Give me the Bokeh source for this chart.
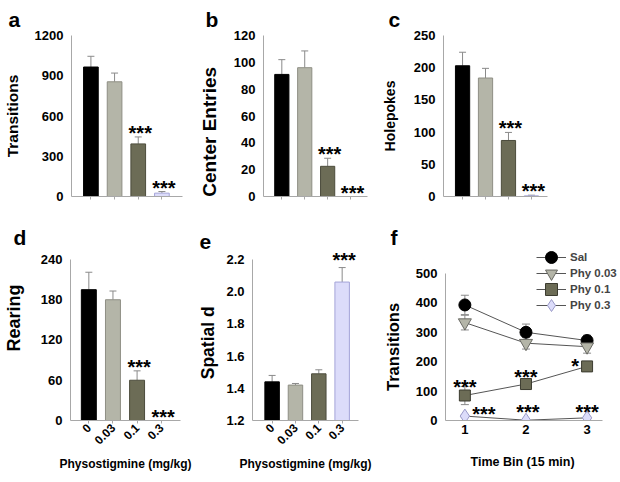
import math
from bokeh.plotting import figure
from bokeh.layouts import column, row
from bokeh.models import (ColumnDataSource, Whisker, TeeHead, FixedTicker,
                          Legend, LegendItem, Range1d, NumeralTickFormatter)
from bokeh.core.properties import value
from bokeh.embed import file_html
from bokeh.resources import INLINE

FONT = "Liberation Sans"
NB = "\u00a0"

# ---------------- data ----------------
doses = ["0", "0.03", "0.1", "0.3"]
bar_fill = ["#000000", "#b4b5a8", "#6c6c56", "#dcdcfa"]
bar_line = ["#000000", "#8e8e84", "#4c4c3c", "#a4a4d8"]

transitions = [965, 855, 392, 25]
transitions_err = [80, 65, 52, 12]
transitions_sig = ["", "", "***", "***"]

center_entries = [91, 96, 22.5, 0]
center_entries_err = [11, 12.5, 6, 0]
center_entries_sig = ["", "", "***", "***"]

holepokes = [203, 184, 87, 1]
holepokes_err = [21, 15, 12.5, 1]
holepokes_sig = ["", "", "***", "***"]

rearing = [195, 180, 60, 0]
rearing_err = [26, 13, 14, 0]
rearing_sig = ["", "", "***", "***"]

spatial_d = [1.44, 1.42, 1.49, 2.06]
spatial_d_err = [0.04, 0.01, 0.025, 0.09]
spatial_d_sig = ["", "", "", "***"]

time_bins = [1, 2, 3]
sal = [393, 300, 272]
sal_err = [33, 28, 18]
phy003 = [333, 263, 251]
phy003_err = [25, 20, 22]
phy01 = [85, 124, 184]
phy01_err = [31, 12, 8]
phy01_sig = ["***", "***", "*"]
phy03 = [15, 1, 9]
phy03_err = [4, 2, 3]
phy03_sig = ["***", "***", "***"]

AXIS_GRAY = "#a8a8a8"
ERR_GRAY = "#8a8a8a"


def make_fig(letter, w, h, l, r, t, b, xr, yr, letter_offset, letter_standoff):
    p = figure(width=w, height=h, x_range=xr, y_range=yr, output_backend="svg",
               toolbar_location=None, min_border_left=l, min_border_right=r,
               min_border_top=t, min_border_bottom=b, title=letter)
    p.title.align = "left"
    p.title.offset = letter_offset
    p.title.standoff = letter_standoff
    p.title.text_font = FONT
    p.title.text_font_style = "bold"
    p.title.text_font_size = "21px"
    p.title.text_color = "#000000"
    p.grid.visible = False
    p.outline_line_color = None
    for ax in (p.xaxis[0], p.yaxis[0]):
        ax.axis_line_color = AXIS_GRAY
        ax.major_tick_line_color = AXIS_GRAY
        ax.minor_tick_line_color = None
        ax.major_label_text_font = FONT
        ax.major_label_text_font_style = "bold"
        ax.major_label_text_font_size = "13px"
        ax.major_label_text_color = "#000000"
        ax.axis_label_text_font = FONT
        ax.axis_label_text_font_style = "bold"
        ax.axis_label_text_color = "#000000"
    p.yaxis.major_tick_in = 0
    p.yaxis.major_tick_out = 0
    p.yaxis.major_label_standoff = 8
    p.xaxis.major_tick_in = 0
    p.xaxis.major_tick_out = 3
    return p


def bar_panel(letter, ylabel, vals, errs, sig, yticks, ystart, yend, ybound,
              w, h, l, r, t, b, xr, label_size, label_standoff, show_x,
              letter_offset, letter_standoff, sig_offset=-4, fmt=None):
    p = make_fig(letter, w, h, l, r, t, b, Range1d(*xr), Range1d(ystart, yend),
                 letter_offset, letter_standoff)
    src = ColumnDataSource(dict(
        x=list(range(len(vals))), top=vals,
        upper=[v + e for v, e in zip(vals, errs)],
        fill=bar_fill, line=bar_line, sig=sig))
    p.vbar(x="x", top="top", bottom=ystart, width=0.62, source=src,
           fill_color="fill", line_color="line", line_width=1)
    p.add_layout(Whisker(base="x", lower="top", upper="upper", source=src,
                         line_color=ERR_GRAY, line_width=1, lower_head=None,
                         upper_head=TeeHead(size=7, line_color=ERR_GRAY, line_width=1)))
    p.text(x="x", y="upper", text="sig", source=src, text_font=value(FONT),
           text_font_style="bold", text_font_size="20px", text_align="center",
           text_baseline="alphabetic", x_offset=2, y_offset=sig_offset,
           text_color="#000000")
    p.yaxis.ticker = FixedTicker(ticks=yticks)
    p.yaxis.bounds = ybound
    if fmt:
        p.yaxis.formatter = NumeralTickFormatter(format=fmt)
    p.yaxis.axis_label = ylabel
    p.yaxis.axis_label_text_font_size = label_size
    p.yaxis.axis_label_standoff = label_standoff
    p.xaxis.ticker = FixedTicker(ticks=list(range(len(vals))))
    if show_x:
        p.xaxis.major_label_overrides = {i: d for i, d in enumerate(doses)}
        p.xaxis.major_label_orientation = math.pi / 4
        p.xaxis.major_label_text_font_size = "12px"
        p.xaxis.major_label_standoff = 2
        p.xaxis.axis_label = "Physostigmine (mg/kg)"
        p.xaxis.axis_label_text_font_size = "12px"
        p.xaxis.axis_label_standoff = 6
    else:
        p.xaxis.major_label_text_color = None
    return p


# top row: frames at y 35..196 ; bottom row: frames at y 250..420
# (non-breaking spaces pad some axis titles so they sit off-centre as in the original)
pa = bar_panel("a", "Transitions", transitions, transitions_err, transitions_sig,
               [0, 300, 600, 900, 1200], 0, 1200, (0, 1200),
               195, 220, 69, 13, 35, 24, (-0.82, 3.87), "15.5px", 11, False, -63, 10)
pb = bar_panel("b", "Center Entries" + NB * 6, center_entries, center_entries_err,
               center_entries_sig, [0, 20, 40, 60, 80, 100, 120], 0, 120, (0, 120),
               183, 220, 62, 11, 35, 24, (-0.80, 3.74), "19px", 11, False, -58, 10)
pc = bar_panel("c", "Holepokes", holepokes, holepokes_err, holepokes_sig,
               [0, 50, 100, 150, 200, 250], 0, 250, (0, 250),
               234, 220, 59, 65, 35, 24, (-0.83, 3.70), "14px", 13, False, -55, 10)
pd = bar_panel("d", NB * 7 + "Rearing", rearing, rearing_err, rearing_sig,
               [0, 60, 120, 180, 240], 0, 253.4, (0, 240),
               195, 254, 69, 15, 30, 54, (-0.76, 3.80), "18px", 14, True, -57, 3)
pe = bar_panel("e", "Spatial d" + NB * 3, spatial_d, spatial_d_err, spatial_d_sig,
               [1.2, 1.4, 1.6, 1.8, 2.0, 2.2], 1.2, 2.256, (1.2, 2.2),
               185, 254, 52, 22, 30, 54, (-0.84, 3.70), "17.5px", 5, True, -53, 3,
               sig_offset=-8, fmt="0.0")

# ---------------- panel f ----------------
# the frame reaches the canvas edge so the legend text is not clipped;
# the x axis line itself stops at the original end via bounds
pf = make_fig("f", 240, 254, 62, 0, 30, 54, Range1d(0.683, 3.547), Range1d(0, 578.2),
              -55, 3)
pf.yaxis.ticker = FixedTicker(ticks=[0, 100, 200, 300, 400, 500])
pf.yaxis.bounds = (0, 500)
pf.yaxis.axis_label = "Transitions" + NB * 5
pf.yaxis.axis_label_text_font_size = "16.5px"
pf.yaxis.axis_label_standoff = 11
pf.xaxis.ticker = FixedTicker(ticks=time_bins)
pf.xaxis.bounds = (0.683, 3.257)
pf.xaxis.major_tick_out = 0
pf.xaxis.major_label_standoff = 4
pf.xaxis.axis_label = "Time Bin (15 min)" + NB * 6
pf.xaxis.axis_label_text_font_size = "12.5px"
pf.xaxis.axis_label_standoff = 18

series = [
    ("Sal", sal, sal_err, "circle", 12, "#000000", "#000000"),
    ("Phy 0.03", phy003, phy003_err, "inverted_triangle", 13, "#b4b5a8", "#6a6a64"),
    ("Phy 0.1", phy01, phy01_err, "square", 11, "#6c6c56", "#3c3c30"),
    ("Phy 0.3", phy03, phy03_err, "diamond", 14, "#dcdcfa", "#9a9ac8"),
]
items = []
for name, vals, errs, marker, size, fill, line in series:
    src = ColumnDataSource(dict(x=time_bins, y=vals,
                                lo=[v - e for v, e in zip(vals, errs)],
                                hi=[v + e for v, e in zip(vals, errs)]))
    wk = Whisker(base="x", lower="lo", upper="hi", source=src, line_color=ERR_GRAY,
                 line_width=1,
                 lower_head=TeeHead(size=8, line_color=ERR_GRAY, line_width=1),
                 upper_head=TeeHead(size=8, line_color=ERR_GRAY, line_width=1))
    wk.level = "underlay"
    pf.add_layout(wk)
    lr = pf.line(x="x", y="y", source=src, line_color="#555555", line_width=1)
    sr = pf.scatter(x="x", y="y", source=src, marker=marker, size=size,
                    fill_color=fill, line_color=line, line_width=1)
    items.append(LegendItem(label=name, renderers=[lr, sr]))

# significance marks for panel f (pixel offsets are style only)
for vals, sig, xoffs, yoffs in [
    (phy01, phy01_sig, [0, 0, -12], [-9, -7, 0]),
    (phy03, phy03_sig, [19, 2, 0], [-2, -8, -6]),
]:
    for i in range(len(vals)):
        pf.text(x=[time_bins[i]], y=[vals[i]], text=[sig[i]], text_font=value(FONT),
                text_font_style="bold", text_font_size="20px", text_align="center",
                text_baseline="alphabetic", x_offset=xoffs[i], y_offset=yoffs[i],
                text_color="#000000")

# one single-entry legend per series so that entries can sit closer than the
# 30px glyph box that keeps the legend markers at full size
for i, item in enumerate(items):
    lg = Legend(items=[item], location=(91, 148 - 16 * i), glyph_width=30,
                glyph_height=30, label_height=30, spacing=0, padding=0, margin=0,
                border_line_color=None, background_fill_alpha=0,
                label_text_font=FONT, label_text_font_style="bold",
                label_text_font_size="11.5px", label_standoff=4)
    pf.add_layout(lg)

layout = column(row(pa, pb, pc), row(pd, pe, pf))
open("out.html", "w").write(file_html(layout, INLINE))
